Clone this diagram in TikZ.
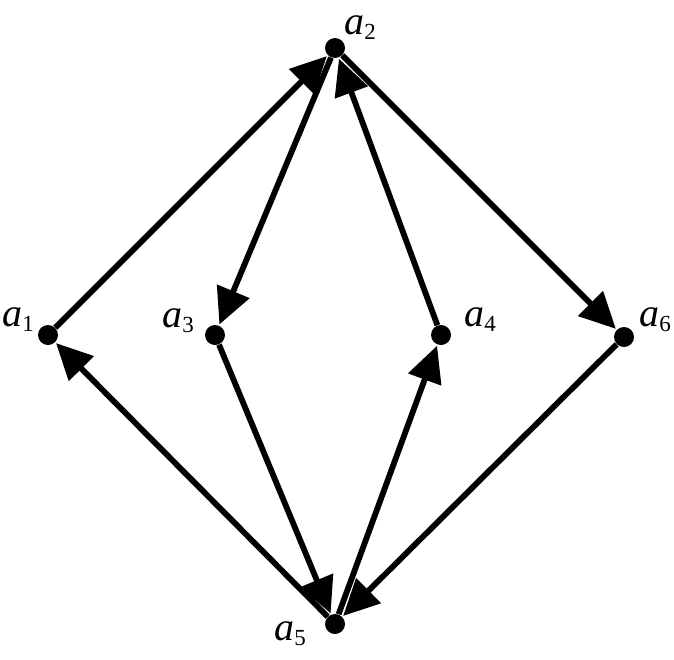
\documentclass[tikz,border=0pt]{standalone}
\usepackage{fontspec}
\setmainfont{Liberation Serif}
\usetikzlibrary{arrows.meta}
\newcommand\vlab[1]{\fontsize{20}{20}\selectfont\itshape a\kern0pt\raisebox{-2.5pt}{\fontsize{11.5}{11.5}\selectfont\upshape #1}}
\tikzset{
  vdot/.style={circle,fill=black,inner sep=0pt,minimum size=10pt},
  vtext/.style={anchor=base west,inner sep=0pt},
  edge/.style={line width=2.9pt,-{Triangle[length=18pt,width=17pt]},shorten >=0.5pt}
}
\begin{document}
\begin{tikzpicture}[x=0.5pt,y=-0.5pt]
\useasboundingbox (0,0) rectangle (674,659);
\node[vdot] (a1) at (48,335) {};
\node[vdot] (a2) at (335,48) {};
\node[vdot] (a3) at (215,335) {};
\node[vdot] (a4) at (441,335) {};
\node[vdot] (a5) at (335,624) {};
\node[vdot] (a6) at (624,337) {};
\node[vtext] (l1) at (2,326) {\vlab{1}};
\node[vtext] (l2) at (344,34) {\vlab{2}};
\node[vtext] (l3) at (162,327) {\vlab{3}};
\node[vtext] (l4) at (464,326) {\vlab{4}};
\node[vtext] (l6) at (639,326) {\vlab{6}};
\node[vtext] (l5) at (274,640) {\vlab{5}};
\draw[edge] (a1) -- (a2);
\draw[edge] (a2) -- (a3);
\draw[edge] (a4) -- (a2);
\draw[edge] (a2) -- (a6);
\draw[edge] (a5) -- (a1);
\draw[edge] (a3) -- (a5);
\draw[edge] (a5) -- (a4);
\draw[edge] (a6) -- (a5);
\end{tikzpicture}
\end{document}
